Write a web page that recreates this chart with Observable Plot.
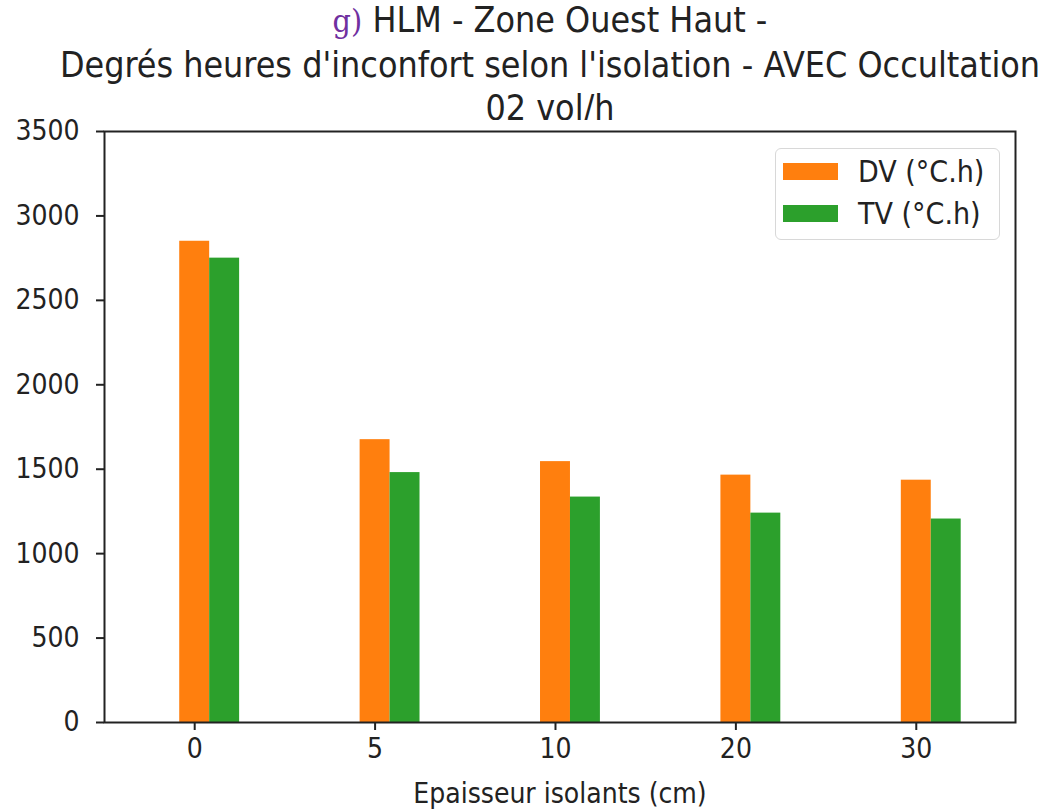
<!DOCTYPE html>
<html>
<head>
<meta charset="utf-8">
<script src="https://cdn.jsdelivr.net/npm/d3@7"></script>
<script src="https://cdn.jsdelivr.net/npm/@observablehq/plot@0.6"></script>
<style>
  html, body { margin: 0; padding: 0; background: #fff; }
  #wrap { position: relative; width: 1061px; height: 809px; overflow: hidden; font-family: "DejaVu Sans", sans-serif; font-stretch: condensed; color: #222; }
  #title { position: absolute; left: 40px; width: 1020px; top: -2px; text-align: center; font-size: 35.5px; line-height: 43px; white-space: nowrap; }
  #title .g { font-family: "DejaVu Serif", serif; color: #7030a0; font-size: 32px; }
  #chart { position: absolute; left: 0; top: 120px; }
  #legend { position: absolute; left: 775px; top: 148px; width: 225px; height: 92px; border: 1.5px solid #d8d8d8; border-radius: 6px; box-sizing: border-box; font-size: 30px; }
  .item { position: absolute; left: 7px; display: flex; align-items: center; height: 34px; }
  .sw { width: 55px; height: 17px; margin-right: 20px; }
</style>
</head>
<body>
<div id="wrap">
  <div id="title"><span class="g">g)</span> HLM - Zone Ouest Haut -<br>Degrés heures d'inconfort selon l'isolation - AVEC Occultation<br>02 vol/h</div>
  <div id="chart"></div>
  <div id="legend"></div>
</div>
<script>
const categories = ["0", "5", "10", "20", "30"];
const dv = [2850, 1675, 1545, 1465, 1435];
const tv = [2750, 1480, 1335, 1240, 1205];
const seriesNames = ["DV (°C.h)", "TV (°C.h)"];
const seriesColors = ["#ff7f0e", "#2ca02c"];
const yTicks = [0, 500, 1000, 1500, 2000, 2500, 3000, 3500];
const xLabel = "Epaisseur isolants (cm)";

const barW = 0.166;
const rows = [];
categories.forEach((c, i) => {
  rows.push({i, s: seriesNames[0], v: dv[i], x1: i - barW / 2, x2: i + barW / 2});
  rows.push({i, s: seriesNames[1], v: tv[i], x1: i + barW / 2, x2: i + 1.5 * barW});
});

const plot = Plot.plot({
  width: 1061,
  height: 689,
  marginLeft: 104,
  marginRight: 46,
  marginTop: 11,
  marginBottom: 87,
  style: {fontFamily: "DejaVu Sans, sans-serif", fontSize: "28px", fontStretch: "condensed", color: "#222", background: "#fff", overflow: "visible"},
  x: {domain: [-0.5, 4.55], label: null},
  y: {domain: [0, 3500], label: null},
  color: {domain: seriesNames, range: seriesColors},
  marks: [
    Plot.rectY(rows, {x1: "x1", x2: "x2", y1: 0, y2: "v", fill: "s"}),
    Plot.frame({stroke: "#222", strokeWidth: 2}),
    Plot.axisY({ticks: yTicks, tickFormat: d3.format("d"), tickSize: 8, tickPadding: 17, label: null, stroke: "#222", strokeWidth: 2, fontSize: 28}),
    Plot.axisX({ticks: categories.map((_, i) => i), tickFormat: i => categories[i], tickSize: 8, tickPadding: 8, label: null, stroke: "#222", strokeWidth: 2, fontSize: 28}),
    Plot.text([xLabel], {frameAnchor: "bottom", dy: 80, text: d => d, fontSize: 28, lineAnchor: "bottom"})
  ]
});
document.getElementById("chart").appendChild(plot);

const lg = document.getElementById("legend");
seriesNames.forEach((n, k) => {
  const it = document.createElement("div");
  it.className = "item";
  it.style.top = (k === 0 ? 5 : 47) + "px";
  it.innerHTML = `<span class="sw" style="background:${seriesColors[k]}"></span><span>${n}</span>`;
  lg.appendChild(it);
});
</script>
</body>
</html>
